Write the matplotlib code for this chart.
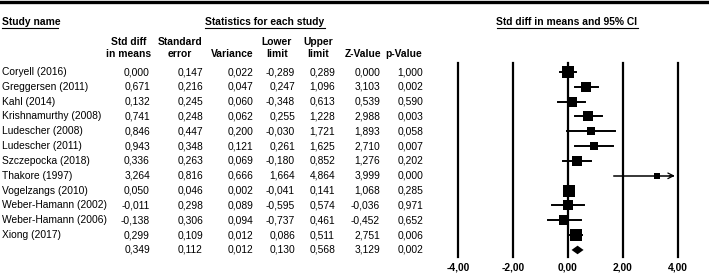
import numpy as np
import matplotlib
matplotlib.use('Agg')
import matplotlib.pyplot as plt
import matplotlib.transforms as mtransforms

plt.rcParams['font.family'] = ['Liberation Sans', 'DejaVu Sans']

# データ
studies = ['Coryell (2016)', 'Greggersen (2011)', 'Kahl (2014)', 'Krishnamurthy (2008)',
           'Ludescher (2008)', 'Ludescher (2011)', 'Szczepocka (2018)', 'Thakore (1997)',
           'Vogelzangs (2010)', 'Weber-Hamann (2002)', 'Weber-Hamann (2006)', 'Xiong (2017)']
smd = [0.000, 0.671, 0.132, 0.741, 0.846, 0.943, 0.336, 3.264, 0.050, -0.011, -0.138, 0.299]
se = [0.147, 0.216, 0.245, 0.248, 0.447, 0.348, 0.263, 0.816, 0.046, 0.298, 0.306, 0.109]
variance = [0.022, 0.047, 0.060, 0.062, 0.200, 0.121, 0.069, 0.666, 0.002, 0.089, 0.094, 0.012]
lower = [-0.289, 0.247, -0.348, 0.255, -0.030, 0.261, -0.180, 1.664, -0.041, -0.595, -0.737, 0.086]
upper = [0.289, 1.096, 0.613, 1.228, 1.721, 1.625, 0.852, 4.864, 0.141, 0.574, 0.461, 0.511]
zval = [0.000, 3.103, 0.539, 2.988, 1.893, 2.710, 1.276, 3.999, 1.068, -0.036, -0.452, 2.751]
pval = [1.000, 0.002, 0.590, 0.003, 0.058, 0.007, 0.202, 0.000, 0.285, 0.971, 0.652, 0.006]

# 全体(ランダム効果)の結果
summary = [0.349, 0.112, 0.012, 0.130, 0.568, 3.129, 0.002]

xticks = [-4, -2, 0, 2, 4]
xticklabels = ['-4,00', '-2,00', '0,00', '2,00', '4,00']

W, H = 709, 274
fig = plt.figure(figsize=(W / 100, H / 100), dpi=100)
ax = fig.add_axes([0, 0, 1, 1])
ax.axis('off')

# ピクセル座標との対応
px_per_unit = 27.4
x0_px = 568
row0_px = 72
row_px = 14.83
ax.set_xlim(-x0_px / px_per_unit, (W - x0_px) / px_per_unit)
ax.set_ylim((H - row0_px) / row_px, -row0_px / row_px)


def ypx(p):
    return (p - row0_px) / row_px


tr = mtransforms.blended_transform_factory(ax.transAxes, ax.transData)
fs = 7.4


def fmt(v):
    return ('%.3f' % v).replace('.', ',')


# 上の太線
ax.plot([0, 1], [ypx(1.5), ypx(1.5)], color='black', lw=2.4, transform=tr)

# 見出し
heads = [('Study name', 2, 'left', 2, 58),
         ('Statistics for each study', 265, 'center', 205, 325),
         ('Std diff in means and 95% CI', 567, 'center', 497, 638)]
for txt, xp, ha, u0, u1 in heads:
    ax.text(xp / W, ypx(22), txt, ha=ha, va='center', fontsize=fs, fontweight='bold', transform=tr)
    ax.plot([u0 / W, u1 / W], [ypx(28), ypx(28)], color='black', lw=0.8, transform=tr)

col_x = [150, 203, 253, 295, 335, 380, 423]
col_heads = [('Std diff', 'in means', 129), ('Standard', 'error', 180), ('', 'Variance', 232),
             ('Lower', 'limit', 277), ('Upper', 'limit', 318), ('', 'Z-Value', 363),
             ('', 'p-Value', 404)]
for l1, l2, xc in col_heads:
    if l1:
        ax.text(xc / W, ypx(42), l1, ha='center', va='center', fontsize=fs, fontweight='bold', transform=tr)
    ax.text(xc / W, ypx(54), l2, ha='center', va='center', fontsize=fs, fontweight='bold', transform=tr)

# 表
for i, name in enumerate(studies):
    ax.text(2 / W, i, name, ha='left', va='center', fontsize=fs, transform=tr)
    vals = [smd[i], se[i], variance[i], lower[i], upper[i], zval[i], pval[i]]
    for v, xp in zip(vals, col_x):
        ax.text(xp / W, i, fmt(v), ha='right', va='center', fontsize=fs, transform=tr)
n = len(studies)
for v, xp in zip(summary, col_x):
    ax.text(xp / W, n, fmt(v), ha='right', va='center', fontsize=fs, transform=tr)

# 縦線
for t, lab in zip(xticks, xticklabels):
    ax.plot([t, t], [ypx(63), ypx(257)], color='black', lw=1.6)
    ax.text(t, ypx(268), lab, ha='center', va='center', fontsize=fs, fontweight='bold')

# 重み (DerSimonian-Laird)
v = np.array(variance)
y = np.array(smd)
w_f = 1 / v
q = np.sum(w_f * (y - np.sum(w_f * y) / np.sum(w_f)) ** 2)
c = np.sum(w_f) - np.sum(w_f ** 2) / np.sum(w_f)
tau2 = max(0, (q - (n - 1)) / c)
w_r = 1 / (v + tau2)
side_px = 5.0 + 0.72 * w_r
side_px = np.clip(side_px, 6, 12.5)

xmax = xticks[-1]
for i in range(n):
    lo, hi = lower[i], upper[i]
    if hi > xmax:
        ax.plot([lo, xmax - 0.15], [i, i], color='black', lw=1.1)
        ax.annotate('', xy=(xmax, i), xytext=(xmax - 0.4, i),
                    arrowprops=dict(arrowstyle='->', color='black', lw=0.9))
    else:
        ax.plot([lo, hi], [i, i], color='black', lw=1.4)
    ax.plot(smd[i], i, marker='s', color='black', markersize=side_px[i] * 0.72, mec='black', mew=0)

# ひし形
dh = 4.3 / row_px
ax.fill([summary[3], summary[0], summary[4], summary[0]], [n, n - dh, n, n + dh], color='black', lw=0)

plt.savefig('out.png', dpi=100)
